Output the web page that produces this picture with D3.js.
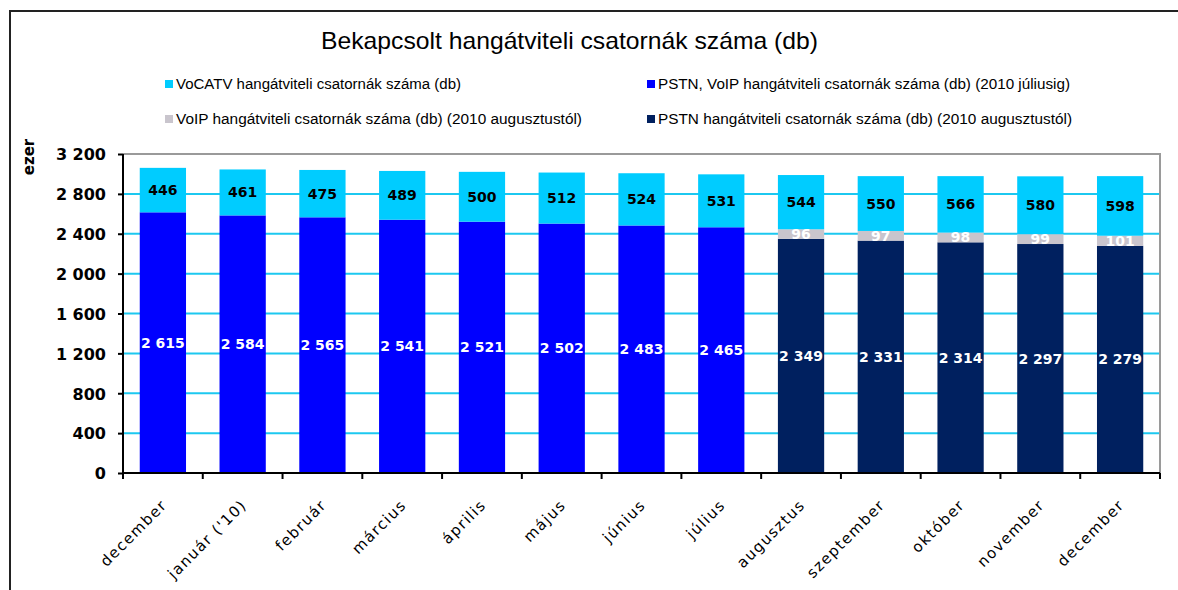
<!DOCTYPE html>
<html lang="hu">

<head>
    <meta charset="UTF-8">
    <title>Bekapcsolt hangátviteli csatornák száma</title>
</head>

<body style="margin:0;background:#fff;">
    <script src='https://d3js.org/d3.v7.min.js'></script>
    <style>
        svg text { font-family: "DejaVu Sans", sans-serif; }
        .narrow { font-family: "Liberation Sans Narrow", "Liberation Sans", sans-serif; }
        .ylab text { font-weight: bold; font-size: 16px; fill: #000; }
        .val { font-weight: bold; font-size: 14px; text-anchor: middle; }
    </style>
    <script>
        // honapok
        var months = ["december", "január ('10)", "február", "március", "április", "május", "június",
            "július", "augusztus", "szeptember", "október", "november", "december"];
        // ezer db
        var pstnVoipOld = [2615, 2584, 2565, 2541, 2521, 2502, 2483, 2465, 0, 0, 0, 0, 0];
        var pstnNew = [0, 0, 0, 0, 0, 0, 0, 0, 2349, 2331, 2314, 2297, 2279];
        var voipNew = [0, 0, 0, 0, 0, 0, 0, 0, 96, 97, 98, 99, 101];
        var vocatv = [446, 461, 475, 489, 500, 512, 524, 531, 544, 550, 566, 580, 598];
        var yTicks = [0, 400, 800, 1200, 1600, 2000, 2400, 2800, 3200];

        var legendNames = {
            vocatv: "VoCATV hangátviteli csatornák száma (db)",
            pstnVoipOld: "PSTN, VoIP hangátviteli csatornák száma (db) (2010 júliusig)",
            voipNew: "VoIP hangátviteli csatornák száma (db) (2010 augusztustól)",
            pstnNew: "PSTN hangátviteli csatornák száma (db) (2010 augusztustól)"
        };
        var colors = { pstnVoipOld: "#0000FF", pstnNew: "#00205F", voipNew: "#C9C5CD", vocatv: "#00CCFF" };
        var labelColor = { pstnVoipOld: "#fff", pstnNew: "#fff", voipNew: "#fff", vocatv: "#000" };

        (function () {
            var rows = months.map(function (m, i) {
                return { month: i, pstnVoipOld: pstnVoipOld[i], pstnNew: pstnNew[i], voipNew: voipNew[i], vocatv: vocatv[i] };
            });
            var keys = ["pstnVoipOld", "pstnNew", "voipNew", "vocatv"];

            var hu = d3.formatLocale({ decimal: ",", thousands: " ", grouping: [3], currency: ["", ""] });
            var fmt = hu.format(",d");

            var W = 1178, H = 590;
            var mLeft = 123, mRight = 1160, mTop = 154, mBottom = 473;

            var svg = d3.select("body").append("svg").attr("width", W).attr("height", H);

            // keret
            svg.append("path").attr("d", "M10,590V11H1178").attr("fill", "none")
                .attr("stroke", "#222").attr("stroke-width", 2);

            svg.append("text").attr("class", "narrow")
                .attr("x", 321).attr("y", 49)
                .attr("font-size", 24)
                .attr("textLength", 497).attr("lengthAdjust", "spacingAndGlyphs")
                .text("Bekapcsolt hangátviteli csatornák száma (db)");

            // jelmagyarazat
            var legendPos = [
                { key: "vocatv", x: 165, y: 89, w: 285 },
                { key: "pstnVoipOld", x: 647, y: 89, w: 412 },
                { key: "voipNew", x: 165, y: 124, w: 406 },
                { key: "pstnNew", x: 647, y: 124, w: 414 }
            ];
            var lg = svg.selectAll("g.leg").data(legendPos).enter().append("g").attr("class", "leg")
                .attr("transform", function (d) { return "translate(" + d.x + "," + d.y + ")"; });
            lg.append("rect").attr("x", 0).attr("y", -9).attr("width", 8).attr("height", 8)
                .attr("fill", function (d) { return colors[d.key]; });
            lg.append("text").attr("class", "narrow").attr("x", 11).attr("y", 0)
                .attr("font-size", 14)
                .attr("textLength", function (d) { return d.w; }).attr("lengthAdjust", "spacingAndGlyphs")
                .text(function (d) { return legendNames[d.key]; });

            var x = d3.scaleBand().domain(d3.range(months.length)).range([mLeft, mRight])
                .paddingInner(0.42).paddingOuter(0.21);
            var y = d3.scaleLinear().domain([0, 3200]).range([mBottom, mTop]);

            // racsvonalak
            svg.append("g").selectAll("line").data(yTicks.slice(1, -1)).enter().append("line")
                .attr("x1", mLeft).attr("x2", mRight)
                .attr("y1", function (d) { return y(d); }).attr("y2", function (d) { return y(d); })
                .attr("stroke", "#1CC8F0").attr("stroke-width", 2);
            svg.append("path").attr("d", "M" + mLeft + "," + mTop + "H" + mRight + "V" + mBottom)
                .attr("fill", "none").attr("stroke", "#9a9a9a").attr("stroke-width", 2);

            var stacked = d3.stack().keys(keys)(rows);

            var layer = svg.selectAll("g.layer").data(stacked).enter().append("g").attr("class", "layer")
                .attr("fill", function (d) { return colors[d.key]; });
            layer.selectAll("rect").data(function (d) { return d.filter(function (p) { return p[1] > p[0]; }); })
                .enter().append("rect")
                .attr("x", function (d) { return x(d.data.month); })
                .attr("width", x.bandwidth())
                .attr("y", function (d) { return y(d[1]); })
                .attr("height", function (d) { return y(d[0]) - y(d[1]); });

            // ertekcimkek
            stacked.forEach(function (s) {
                svg.append("g").selectAll("text").data(s.filter(function (p) { return p[1] > p[0]; }))
                    .enter().append("text").attr("class", "val")
                    .attr("fill", labelColor[s.key])
                    .attr("x", function (d) { return x(d.data.month) + x.bandwidth() / 2; })
                    .attr("y", function (d) { return (y(d[0]) + y(d[1])) / 2; })
                    .attr("dy", ".36em")
                    .text(function (d) { return fmt(d.data[s.key]); });
            });

            // tengelyek
            var yAxis = svg.append("g").attr("class", "ylab").attr("transform", "translate(" + mLeft + ",0)")
                .call(d3.axisLeft(y).tickValues(yTicks).tickFormat(fmt).tickSize(5).tickPadding(12));
            yAxis.select(".domain").attr("stroke", "#000").attr("stroke-width", 2).attr("d", "M0," + mTop + "V" + mBottom);
            yAxis.selectAll(".tick line").attr("stroke", "#000").attr("stroke-width", 2);
            yAxis.selectAll(".tick text").attr("dy", ".36em");

            var xg = svg.append("g");
            xg.append("line").attr("x1", mLeft).attr("x2", mRight).attr("y1", mBottom).attr("y2", mBottom)
                .attr("stroke", "#000").attr("stroke-width", 2);
            xg.selectAll("line.tk").data(d3.range(months.length + 1)).enter().append("line").attr("class", "tk")
                .attr("x1", function (i) { return mLeft + i * x.step(); })
                .attr("x2", function (i) { return mLeft + i * x.step(); })
                .attr("y1", mBottom).attr("y2", mBottom + 6)
                .attr("stroke", "#000").attr("stroke-width", 2);
            xg.selectAll("text").data(months).enter().append("text")
                .attr("font-family", "Liberation Sans, sans-serif")
                .attr("font-size", 15).attr("letter-spacing", 1.4)
                .attr("text-anchor", "end")
                .attr("transform", function (d, i) {
                    return "translate(" + (x(i) + x.bandwidth() / 2 + 5) + "," + (mBottom + 33) + ") rotate(-45)";
                })
                .text(function (d) { return d; });

            svg.append("text").attr("font-weight", "bold").attr("font-size", 15)
                .attr("text-anchor", "middle")
                .attr("transform", "translate(34,157) rotate(-90)")
                .text("ezer");
        })();
    </script>
</body>

</html>
